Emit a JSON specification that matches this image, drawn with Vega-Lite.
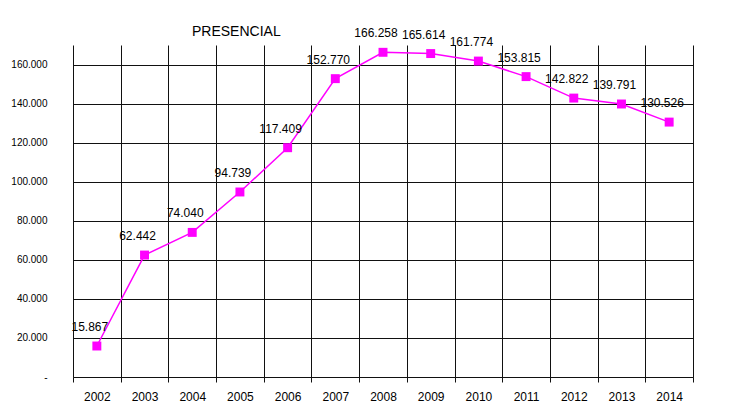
{
  "$schema": "https://vega.github.io/schema/vega-lite/v6.json",
  "width": 620,
  "height": 332,
  "autosize": {"type": "none"},
  "padding": {"left": 73, "top": 45, "right": 45, "bottom": 30},
  "background": "white",
  "config": {
    "font": "Liberation Sans",
    "view": {"stroke": null},
    "locale": {"number": {"decimal": ",", "thousands": ".", "grouping": [3], "currency": ["", ""]}}
  },
  "title": {
    "text": "PRESENCIAL",
    "anchor": "start",
    "frame": "group",
    "dx": 119,
    "offset": -12,
    "fontSize": 14,
    "fontWeight": "normal",
    "color": "#000",
    "font": "Liberation Sans"
  },
  "data": {
    "values": [
      {"year": "2002", "value": 15867},
      {"year": "2003", "value": 62442},
      {"year": "2004", "value": 74040},
      {"year": "2005", "value": 94739},
      {"year": "2006", "value": 117409},
      {"year": "2007", "value": 152770},
      {"year": "2008", "value": 166258},
      {"year": "2009", "value": 165614},
      {"year": "2010", "value": 161774},
      {"year": "2011", "value": 153815},
      {"year": "2012", "value": 142822},
      {"year": "2013", "value": 139791},
      {"year": "2014", "value": 130526}
    ]
  },
  "encoding": {
    "x": {
      "field": "year",
      "type": "ordinal",
      "scale": {"type": "band", "paddingInner": 0, "paddingOuter": 0},
      "axis": {
        "title": null,
        "tickBand": "extent",
        "grid": true,
        "gridColor": "#111",
        "gridOpacity": 1,
        "domainColor": "#111",
        "tickColor": "#111",
        "tickSize": 5,
        "labelAngle": 0,
        "labelFontSize": 12,
        "labelColor": "#000",
        "labelPadding": 9,
        "labelFont": "Liberation Sans"
      }
    },
    "y": {
      "field": "value",
      "type": "quantitative",
      "scale": {"domain": [0, 170000], "nice": false},
      "axis": {
        "title": null,
        "values": [0, 20000, 40000, 60000, 80000, 100000, 120000, 140000, 160000],
        "format": ",d",
        "labelExpr": "datum.value == 0 ? '-' : datum.label",
        "domain": false,
        "ticks": false,
        "grid": true,
        "gridColor": "#111",
        "gridOpacity": 1,
        "labelFontSize": 10,
        "labelColor": "#000",
        "labelPadding": 26,
        "labelFont": "Liberation Sans"
      }
    }
  },
  "layer": [
    {"mark": {"type": "line", "color": "#FF00FF", "strokeWidth": 1.5}},
    {"mark": {"type": "point", "shape": "square", "filled": true, "color": "#FF00FF", "size": 80, "opacity": 1}},
    {
      "mark": {"type": "text", "dx": -7, "dy": -19, "fontSize": 12, "color": "#000", "font": "Liberation Sans"},
      "encoding": {"text": {"field": "value", "type": "quantitative", "format": ",d"}}
    }
  ]
}
